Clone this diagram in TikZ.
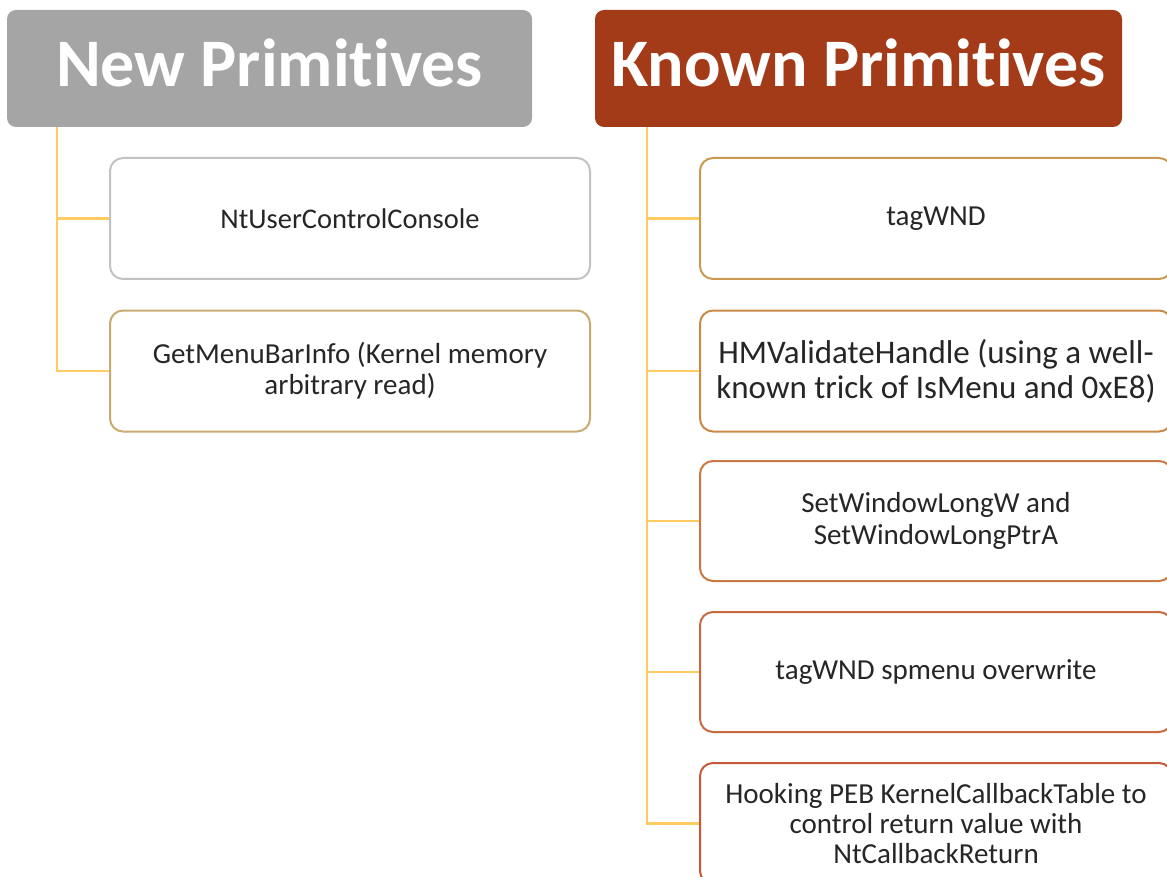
\documentclass[tikz,border=0pt]{standalone}
\usepackage{fontspec}
\setmainfont{Carlito}[Ligatures=NoCommon]
\definecolor{hdrgray}{HTML}{A5A5A5}
\definecolor{hdrred}{HTML}{A33A18}
\definecolor{wire}{HTML}{FFCB62}
\definecolor{bdA}{HTML}{C2C2C2}
\definecolor{bdB}{HTML}{C8AB72}
\definecolor{bdC}{HTML}{C89A52}
\definecolor{bdD}{HTML}{C98A48}
\definecolor{bdE}{HTML}{C97A44}
\definecolor{bdF}{HTML}{C86A40}
\definecolor{bdG}{HTML}{C65A38}
\tikzset{
  x=1pt, y=-1pt,
  header/.style={rounded corners=9pt, minimum width=525pt, minimum height=117pt,
    text=white, font=\fontsize{68}{72}\selectfont\bfseries, inner sep=0pt,
    text depth=12pt},
  item/.style={draw, line width=2pt, rounded corners=13pt, fill=white,
    minimum width=480pt, minimum height=121pt, align=center,
    font=\fontsize{29}{31}\selectfont, text=black!85},
  wireline/.style={draw=wire, line width=2.4pt},
}
\begin{document}
\begin{tikzpicture}
\useasboundingbox (0,0) rectangle (1167,877);
\clip (0,0) rectangle (1167,877);

% column headers
\node[header, fill=hdrgray] (newh) at (269.5,68.5) {New Primitives};
\node[header, fill=hdrred, minimum width=527pt] (knownh) at (858.5,68.5) {Known Primitives};

% left column
\coordinate (lt) at (57,127);
\node[item, draw=bdA, font=\fontsize{28.5}{34}\selectfont] (n1) at (350,218.5) {NtUserControlConsole};
\node[item, draw=bdB] (n2) at (350,371) {GetMenuBarInfo (Kernel memory\\ arbitrary read)};

% right column
\coordinate (rt) at (647,127);
\node[item, draw=bdC, minimum width=472pt] (k1) at (936,218.5) {tagWND};
\node[item, draw=bdD, minimum width=472pt, font=\fontsize{33}{35}\selectfont] (k2) at (936,371) {HMValidateHandle (using a well-\\known trick of IsMenu and 0xE8)};
\node[item, draw=bdE, minimum width=472pt, minimum height=120pt, font=\fontsize{29}{32}\selectfont] (k3) at (936,521) {SetWindowLongW and\\ SetWindowLongPtrA};
\node[item, draw=bdF, minimum width=472pt, minimum height=120pt] (k4) at (936,672) {tagWND spmenu overwrite};
\node[item, draw=bdG, minimum width=472pt, minimum height=121pt, font=\fontsize{29}{30}\selectfont] (k5) at (936,823.5) {Hooking PEB KernelCallbackTable to\\ control return value with\\ NtCallbackReturn};

% tree connectors
\draw[wireline] (newh.south -| lt) |- (n2.west);
\draw[wireline] (n1.west -| lt) -- (n1.west);
\draw[wireline] (knownh.south -| rt) |- (k5.west);
\foreach \k in {k1,k2,k3,k4} \draw[wireline] (\k.west -| rt) -- (\k.west);
\end{tikzpicture}
\end{document}
